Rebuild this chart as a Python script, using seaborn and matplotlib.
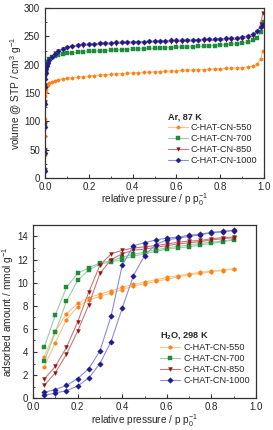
import numpy as np
import pandas as pd
import matplotlib
matplotlib.use("Agg")
import matplotlib.pyplot as plt
from matplotlib.ticker import MultipleLocator
import seaborn as sns

sns.set_style("ticks")
plt.rcParams['font.family'] = ['Liberation Sans', 'DejaVu Sans']
plt.rcParams['mathtext.fontset'] = 'custom'
plt.rcParams['mathtext.rm'] = 'Liberation Sans'
plt.rcParams['mathtext.it'] = 'Liberation Sans:italic'
plt.rcParams['mathtext.bf'] = 'Liberation Sans:bold'

# -------------------- DATA --------------------
SAMPLES = ['C-HAT-CN-550', 'C-HAT-CN-700', 'C-HAT-CN-850', 'C-HAT-CN-1000']
COLORS = ['#FF8015', '#1E8C3A', '#8B1414', '#1C1C8E']
LINE_COLORS = ['#FFC48A', '#9CCDA8', '#C87878', '#8C8CDC']
MARKERS = ['h', 's', 'v', 'D']

# Ar isotherm at 87 K
p_ar = [0.0001, 0.0003, 0.0006, 0.001, 0.0015, 0.002, 0.003, 0.005, 0.008, 0.012,
        0.02, 0.03, 0.045, 0.06, 0.08, 0.1,
        0.125, 0.15, 0.175, 0.2, 0.225, 0.25, 0.275, 0.3, 0.325, 0.35, 0.375, 0.4,
        0.425, 0.45, 0.475, 0.5, 0.525, 0.55, 0.575, 0.6, 0.625, 0.65, 0.675, 0.7,
        0.725, 0.75, 0.775, 0.8, 0.825, 0.85, 0.875, 0.9,
        0.925, 0.95, 0.97, 0.985, 0.995]
ar_550 = [12, 40, 75, 105, 130, 145, 152, 158, 162, 165, 168, 170, 172, 174, 175, 176,
          177, 178, 179, 180, 181, 182, 182.5, 183, 184, 184.5, 185, 185.5, 186, 186.5,
          187, 187.5, 188, 188.5, 189, 189.5, 190, 190.5, 191, 191, 191.5, 192, 192.5,
          193, 193.5, 194, 194.5, 195,
          196, 198, 202, 210, 225]
ar_700 = [15, 50, 95, 135, 165, 180, 188, 195, 200, 205, 210, 213, 216, 218, 219, 220,
          221, 222, 223, 223.5, 224, 224.5, 225, 225.5, 226, 226.5, 227, 227.5, 228, 228.5,
          229, 229, 229.5, 230, 230.5, 231, 231, 231.5, 232, 232.5, 233, 233.5, 234,
          235, 235.5, 236, 237, 238,
          240, 243, 248, 258, 275]
ar_850 = [15, 50, 95, 135, 165, 178, 186, 193, 198, 203, 210, 214, 220, 224, 228, 230,
          232, 233, 234, 235, 235.5, 236, 236.5, 237, 237.5, 238, 238, 238.5, 239, 239,
          239.5, 240, 240, 240.5, 240.5, 241, 241, 241.5, 242, 242, 242.5, 243, 243,
          243.5, 244, 244.5, 245, 246,
          248, 251, 258, 272, 292]
ar_1000 = [12, 45, 90, 130, 160, 175, 185, 192, 198, 203, 209, 213, 219, 224, 228, 231,
           233, 234.5, 236, 237, 237.5, 238, 238.5, 239, 239.5, 240, 240, 240.5, 241, 241,
           241.5, 242, 242, 242.5, 243, 243, 243.5, 244, 244, 244.5, 245, 245, 245.5,
           246, 246.5, 247, 248, 249,
           251, 254, 260, 266, 270]
AR = [ar_550, ar_700, ar_850, ar_1000]

# H2O isotherm at 298 K (adsorption / desorption)
p_h2o = [0.05, 0.1, 0.15, 0.2, 0.25, 0.3, 0.35, 0.4, 0.45, 0.5, 0.55, 0.6,
         0.65, 0.7, 0.75, 0.8, 0.85, 0.9]
h2o_550_ads = [2.7, 4.8, 6.8, 7.9, 8.5, 8.8, 9.1, 9.4, 9.7, 9.9, 10.1, 10.3,
               10.5, 10.7, 10.8, 10.95, 11.05, 11.2]
h2o_550_des = [3.6, 5.8, 7.3, 8.2, 8.7, 9.0, 9.3, 9.6, 9.85, 10.05, 10.25, 10.45,
               10.6, 10.75, 10.9, 11.0, 11.1, 11.2]
h2o_700_ads = [3.2, 5.7, 8.4, 10.2, 11.1, 11.6, 11.8, 12.0, 12.3, 12.5, 12.7, 12.9,
               13.0, 13.1, 13.25, 13.4, 13.55, 13.7]
h2o_700_des = [4.4, 7.2, 9.6, 10.8, 11.3, 11.7, 11.9, 12.2, 12.45, 12.65, 12.85, 13.0,
               13.15, 13.25, 13.4, 13.5, 13.6, 13.75]
h2o_850_ads = [1.1, 2.2, 3.8, 5.8, 8.1, 10.8, 12.0, 12.5, 12.8, 12.9, 13.05, 13.2,
               13.35, 13.45, 13.55, 13.7, 13.8, 13.9]
h2o_850_des = [1.65, 2.75, 4.4, 6.6, 9.2, 11.5, 12.5, 12.8, 13.0, 13.1, 13.2, 13.35,
               13.5, 13.6, 13.65, 13.8, 13.9, 13.95]
h2o_1000_ads = [0.25, 0.45, 0.65, 1.05, 1.75, 3.0, 4.9, 7.8, 10.6, 12.35, 13.3, 13.7,
                13.85, 14.0, 14.15, 14.3, 14.4, 14.5]
h2o_1000_des = [0.5, 0.75, 1.1, 1.7, 2.55, 4.1, 7.1, 11.5, 13.2, 13.45, 13.7, 13.85,
                13.95, 14.1, 14.2, 14.35, 14.45, 14.55]
H2O_ADS = [h2o_550_ads, h2o_700_ads, h2o_850_ads, h2o_1000_ads]
H2O_DES = [h2o_550_des, h2o_700_des, h2o_850_des, h2o_1000_des]

FS = 7.0
LFS = 6.6


def style_axes(ax, ymax, ymaj, ymin):
    ax.set_xlim(0, 1.0)
    ax.set_ylim(0, ymax)
    ax.xaxis.set_major_locator(MultipleLocator(0.2))
    ax.xaxis.set_minor_locator(MultipleLocator(0.1))
    ax.yaxis.set_major_locator(MultipleLocator(ymaj))
    ax.yaxis.set_minor_locator(MultipleLocator(ymin))
    ax.tick_params(which='both', direction='in', labelsize=FS, color='#333333')
    ax.tick_params(axis='x', pad=2.6)
    ax.tick_params(axis='y', pad=3.5)
    ax.tick_params(which='major', length=3, width=0.8)
    ax.tick_params(which='minor', length=1.5, width=0.6)
    for s in ax.spines.values():
        s.set_color('#333333')
        s.set_linewidth(0.9)
        s.set_visible(True)
    ax.xaxis.set_major_formatter(plt.FuncFormatter(lambda v, _: f"{v:.1f}"))


def draw_branch(ax, x, y, i, label=None, ms=3.0):
    sns.lineplot(x=x, y=y, ax=ax, sort=False, color=LINE_COLORS[i], linewidth=0.8,
                 marker=MARKERS[i], markersize=ms, markerfacecolor=COLORS[i],
                 markeredgecolor=COLORS[i], markeredgewidth=0.3, label=label,
                 legend=False)


fig = plt.figure(figsize=(2.73, 4.30), dpi=100)
ax1 = fig.add_axes([0.165, 0.586, 0.802, 0.395])
ax2 = fig.add_axes([0.121, 0.074, 0.817, 0.403])

# -------------------- Ar --------------------
for i, name in enumerate(SAMPLES):
    draw_branch(ax1, p_ar, AR[i], i, label=name, ms=2.6)
style_axes(ax1, 300, 50, 25)
ax1.set_xlabel(r"relative pressure / p p$_0^{-1}$", fontsize=FS + 0.3, labelpad=0)
ax1.set_ylabel(r"volume @ STP / cm$^3$ g$^{-1}$", fontsize=FS + 0.3, labelpad=0)
leg1 = ax1.legend(loc='lower right', bbox_to_anchor=(1.0, 0.04), frameon=False,
                  fontsize=LFS, title="Ar, 87 K", alignment='left',
                  handlelength=2.2, handletextpad=0.3, labelspacing=0.2,
                  borderpad=0.2)
leg1.get_title().set_fontsize(LFS)
leg1.get_title().set_fontweight('bold')

# -------------------- H2O --------------------
for i, name in enumerate(SAMPLES):
    draw_branch(ax2, p_h2o, H2O_ADS[i], i, label=name, ms=2.8)
    draw_branch(ax2, p_h2o, H2O_DES[i], i, ms=2.8)
style_axes(ax2, 15, 2, 1)
ax2.set_xlabel(r"relative pressure / p p$_0^{-1}$", fontsize=FS + 0.3, labelpad=0)
ax2.set_ylabel(r"adsorbed amount / mmol g$^{-1}$", fontsize=FS + 0.3, labelpad=1)
leg2 = ax2.legend(loc='lower right', bbox_to_anchor=(1.0, 0.04), frameon=False,
                  fontsize=LFS, title=r"H$_\mathbf{2}$O, 298 K", alignment='left',
                  handlelength=2.2, handletextpad=0.3, labelspacing=0.2,
                  borderpad=0.2)
leg2.get_title().set_fontsize(LFS)
leg2.get_title().set_fontweight('bold')

fig.savefig("out.png", dpi=100)
